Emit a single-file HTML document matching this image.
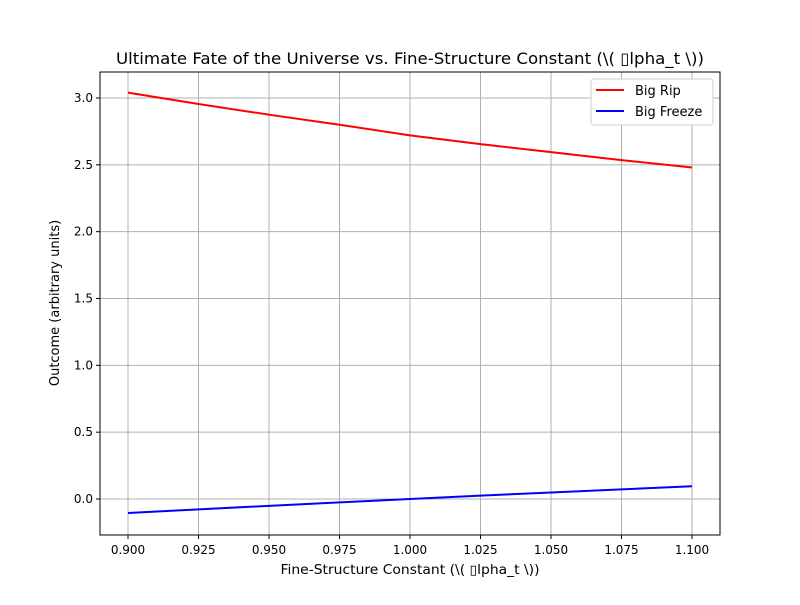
<!DOCTYPE html>
<html><head><meta charset="utf-8"><style>
body{margin:0;background:#fff;font-family:"Liberation Sans","DejaVu Sans",sans-serif;}
svg text{font-family:"DejaVu Sans","Liberation Sans",sans-serif;}
</style></head><body>
<svg id="c" width="800" height="600" xmlns="http://www.w3.org/2000/svg">
<rect width="800" height="600" fill="#fff"/>
<text x="410" y="64" font-size="16" text-anchor="middle" textLength="588" lengthAdjust="spacingAndGlyphs">Ultimate Fate of the Universe vs. Fine-Structure Constant (\( ▯lpha_t \))</text>
<g id="grid"></g><g id="ticks"></g><g id="series"></g>
<rect x="100" y="72" width="620" height="463" fill="none" stroke="#000" stroke-width="1"/>
<text x="410" y="574" font-size="13" text-anchor="middle" textLength="259" lengthAdjust="spacingAndGlyphs">Fine-Structure Constant (\( ▯lpha_t \))</text>
<text transform="translate(59,303) rotate(-90)" font-size="13" text-anchor="middle">Outcome (arbitrary units)</text>
<g>
<rect x="591" y="79" width="122" height="46" rx="3" fill="#fff" stroke="#ccc"/>
<line x1="596" y1="90" x2="624" y2="90" stroke="red" stroke-width="2"/>
<text x="635" y="95" font-size="13">Big Rip</text>
<line x1="596" y1="111" x2="624" y2="111" stroke="blue" stroke-width="2"/>
<text x="635" y="116" font-size="13">Big Freeze</text>
</g>
</svg>
<script>
const xValues=[0.9,0.925,0.95,0.975,1.0,1.025,1.05,1.075,1.1];
const bigRip=[3.04,2.955,2.875,2.80,2.72,2.655,2.595,2.535,2.48];
const bigFreeze=[-0.105,-0.078,-0.051,-0.025,0.0,0.025,0.049,0.072,0.095];
const xTicks=[0.9,0.925,0.95,0.975,1.0,1.025,1.05,1.075,1.1];
const xTickLabels=["0.900","0.925","0.950","0.975","1.000","1.025","1.050","1.075","1.100"];
const yTicks=[0,0.5,1,1.5,2,2.5,3];
const yTickLabels=["0.0","0.5","1.0","1.5","2.0","2.5","3.0"];
const NS="http://www.w3.org/2000/svg";
function sx(v){return 128+(v-0.9)/0.2*564;}
function sy(v){return 499-v*133.67;}
function mk(t,a,p){const e=document.createElementNS(NS,t);for(const k in a)e.setAttribute(k,a[k]);p.appendChild(e);return e;}
const g=document.getElementById('grid'),tk=document.getElementById('ticks'),s=document.getElementById('series');
xTicks.forEach((v,i)=>{const x=sx(v);
const l=mk('line',{x1:x,x2:x,y1:72,y2:535,stroke:'#b0b0b0','stroke-width':1},g);


mk('line',{x1:x,x2:x,y1:535,y2:539,stroke:'#000'},tk);
const t=mk('text',{x:x,y:554,'font-size':12,'text-anchor':'middle'},tk);t.textContent=xTickLabels[i];

});
yTicks.forEach((v,i)=>{const y=sy(v);
const l=mk('line',{x1:100,x2:720,y1:y,y2:y,stroke:'#b0b0b0','stroke-width':1},g);


mk('line',{x1:96,x2:100,y1:y,y2:y,stroke:'#000'},tk);
const t=mk('text',{x:93,y:y+4,'font-size':12,'text-anchor':'end'},tk);t.textContent=yTickLabels[i];

});
function line(vals,color,name){const p=mk('polyline',{points:vals.map((v,i)=>sx(xValues[i])+','+sy(v)).join(' '),fill:'none',stroke:color,'stroke-width':2},s);

}
line(bigRip,'red','big-rip-line');
line(bigFreeze,'blue','big-freeze-line');
</script>
</body></html>
